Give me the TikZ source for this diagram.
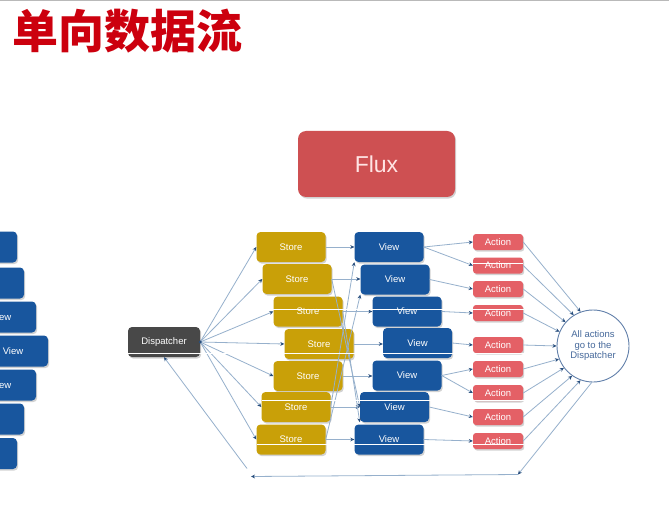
\documentclass[tikz,border=0pt]{standalone}
\usepackage{fontspec}
\setmainfont{Liberation Sans}
\newfontfamily\cjk{Noto Sans CJK SC}
\usetikzlibrary{shadows,arrows.meta}

\definecolor{titlered}{RGB}{204,0,14}
\definecolor{fluxred}{RGB}{206,80,82}
\definecolor{fluxtext}{RGB}{255,228,228}
\definecolor{storegold}{RGB}{201,160,8}
\definecolor{viewblue}{RGB}{24,86,158}
\definecolor{actionred}{RGB}{228,96,102}
\definecolor{dispgray}{RGB}{72,72,72}
\definecolor{wire}{RGB}{150,176,204}
\definecolor{tipblue}{RGB}{40,78,125}
\definecolor{circtext}{RGB}{70,105,155}

\begin{document}
\begin{tikzpicture}[x=1pt,y=-1pt,
  box/.style={rounded corners=4pt, draw=none, text=white, inner sep=0pt,
    font=\fontsize{9.5}{11}\selectfont,
    drop shadow={shadow xshift=1.2pt,shadow yshift=-1.6pt,opacity=0.35}},
  storebox/.style={box, fill=storegold, minimum width=69pt, minimum height=30pt},
  viewbox/.style={box, fill=viewblue, minimum width=69pt, minimum height=30pt},
  sideview/.style={box, fill=viewblue, minimum width=70pt, minimum height=31pt},
  actbox/.style={box, fill=actionred, minimum width=50pt, minimum height=16pt, rounded corners=3pt},
  dispbox/.style={box, fill=dispgray, minimum width=72pt, minimum height=30pt},
  wireline/.style={draw=wire, line width=0.8pt},
  arr/.style={wireline, -{Stealth[length=4pt,width=3.8pt,color=tipblue,fill=tipblue]}},
  glitch/.style={draw=white, line width=0.9pt}
]
\clip (0,0) rectangle (669,505);
\fill[white] (0,0) rectangle (669,505);
\draw[gray!55, line width=1pt] (0,0.5) -- (669,0.5);

% heading
\node[anchor=base west, inner sep=0pt, text=titlered,
      font=\cjk\bfseries\fontsize{46}{46}\selectfont] (title) at (12,49) {单向数据流};

% Flux banner
\node[box, fill=fluxred, rounded corners=8pt, minimum width=157pt, minimum height=66pt,
      text=fluxtext, font=\fontsize{23}{23}\selectfont] (flux) at (376.5,164) {Flux};

% views stacked at the left edge (only the middle ones show their label)
\node[sideview] (lv1) at (-18,247) {};
\node[sideview] (lv2) at (-11,283) {};
\node[sideview] (lv3) at (1,317) {View};
\node[sideview] (lv4) at (13,351) {View};
\node[sideview] (lv5) at (1,385) {View};
\node[sideview] (lv6) at (-11,419) {};
\node[sideview] (lv7) at (-18,453.5) {};

% dispatcher
\node[dispbox] (D) at (164,342) {Dispatcher};

% stores
\node[storebox] (S1) at (291,247) {Store};
\node[storebox] (S2) at (297,279) {Store};
\node[storebox] (S3) at (308,311.5) {Store};
\node[storebox] (S4) at (319,344) {Store};
\node[storebox] (S5) at (308,376) {Store};
\node[storebox] (S6) at (296,407) {Store};
\node[storebox] (S7) at (291,439.5) {Store};

% views
\node[viewbox] (V1) at (389,247) {View};
\node[viewbox] (V2) at (395,279.5) {View};
\node[viewbox] (V3) at (407,311.5) {View};
\node[viewbox] (V4) at (417.5,343) {View};
\node[viewbox] (V5) at (407,375.5) {View};
\node[viewbox] (V6) at (394.5,407) {View};
\node[viewbox] (V7) at (389,439.5) {View};

% actions
\node[actbox] (A1) at (498,242) {Action};
\node[actbox] (A2) at (498,265.5) {Action};
\node[actbox] (A3) at (498,289) {Action};
\node[actbox] (A4) at (498,313) {Action};
\node[actbox] (A5) at (498,345) {Action};
\node[actbox] (A6) at (498,369) {Action};
\node[actbox] (A7) at (498,393) {Action};
\node[actbox] (A8) at (498,417) {Action};
\node[actbox] (A9) at (498,441) {Action};

% collector circle
\node[circle, draw=circtext!85, fill=white, line width=0.9pt, minimum size=72pt, inner sep=0pt,
      align=center, text=circtext, font=\fontsize{9.5}{10.5}\selectfont] (C) at (593,346)
      {All actions\\go to the\\Dispatcher};

% dispatcher -> stores
\foreach \s in {S1,S2,S3,S4,S5,S6,S7}
  \draw[arr] (D.east) -- (\s.west);
\fill[tipblue] (D.east) circle (1.7pt);

% stores -> views
\foreach \i in {1,...,7}
  \draw[arr] (S\i.east) -- (V\i.west |- S\i.east);
\draw[arr] (S2.east) -- (V6.west);
\draw[arr] (S3.east) -- (V6.south west);
\draw[arr] (S6.east) -- (V1.south west);
\draw[arr] (S7.east) -- (V2.south west);

% views -> actions
\draw[arr] (V1.east) -- (A1.west);
\draw[arr] (V1.east) -- (A2.west);
\draw[arr] (V2.east) -- (A3.west);
\draw[arr] (V3.east) -- (A4.west);
\draw[arr] (V4.east) -- (A5.west);
\draw[arr] (V5.east) -- (A6.west);
\draw[arr] (V5.east) -- (A7.west);
\draw[arr] (V6.east) -- (A8.west);
\draw[arr] (V7.east) -- (A9.west);

% actions -> circle
\draw[arr] (A1.east) -- (C.110);
\draw[arr] (A2.east) -- (C.122);
\draw[arr] (A3.east) -- (C.139);
\draw[arr] (A4.east) -- (C.157);
\draw[arr] (A5.east) -- (C.180);
\draw[arr] (A6.east) -- (C.201);
\draw[arr] (A7.east) -- (C.217);
\draw[arr] (A8.east) -- (C.235);
\draw[arr] (A9.east) -- (C.250);

% loop back to the dispatcher
\coordinate (loopR) at (518,474.5);
\coordinate (loopL) at (251,476.5);
\coordinate (loopD) at (247,468.5);
\draw[arr] (C.268) -- (loopR);
\draw[arr] (loopR) -- (loopL);
\draw[arr] (loopD) -- (D.south);

% thin white streaks across the rows
\draw[glitch] (273,309) -- (524,309);
\draw[glitch] (128,353) -- (524,353);
\draw[glitch] (262,400) -- (524,400);
\draw[glitch] (257,444.5) -- (524,444.5);
\draw[glitch] (473,263.5) -- (523,263.5);
\end{tikzpicture}
\end{document}
